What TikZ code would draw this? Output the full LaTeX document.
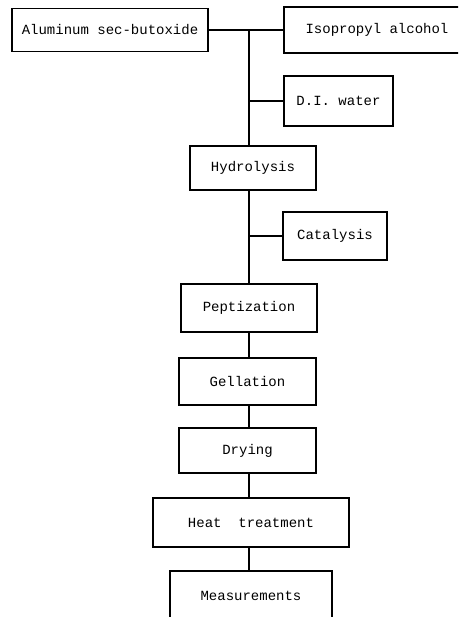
\documentclass[tikz,border=0pt]{standalone}
\usepackage{fontspec}
\setmonofont{Liberation Mono}
\usepackage{tikz}

\begin{document}
\begin{tikzpicture}[
  x=1pt, y=-1pt,
  font=\ttfamily\fontsize{14}{16}\selectfont,
  box/.style={draw, line width=1.1pt, inner sep=0pt, align=center},
  link/.style={draw, line width=1.1pt}
]
\clip (0,0) rectangle (458,617);

\node[box, minimum width=196pt, minimum height=43pt] (alkoxide) at (110,30) {Aluminum sec-butoxide};
\node[box, minimum width=186pt, minimum height=46pt] (ipa)      at (377,30) {Isopropyl alcohol};
\node[box, minimum width=109pt, minimum height=50pt] (water)    at (338.5,101) {D.I. water};
\node[box, minimum width=126pt, minimum height=44pt] (hydro)    at (253,168) {Hydrolysis};
\node[box, minimum width=104pt, minimum height=48pt] (cata)     at (335,236) {Catalysis};
\node[box, minimum width=136pt, minimum height=48pt] (pept)     at (249,308) {Peptization};
\node[box, minimum width=137pt, minimum height=47pt] (gel)      at (247.5,381.5) {Gellation};
\node[box, minimum width=137pt, minimum height=45pt] (dry)      at (247.5,450.5) {Drying};
\node[box, minimum width=196pt, minimum height=49pt] (heat)     at (251,522.5) {Heat~~treatment};
\node[box, minimum width=162pt, minimum height=50pt] (meas)     at (251,596) {Measurements};

\coordinate (trunk) at (249,30);

\draw[link] (alkoxide) -- (ipa);
\draw[link] (trunk) -- (trunk |- hydro.north);
\draw[link] (water.west) -- (water.west -| trunk);
\draw[link] (hydro.south -| trunk) -- (trunk |- pept.north);
\draw[link] (cata.west) -- (cata.west -| trunk);
\draw[link] (pept.south -| trunk) -- (trunk |- gel.north);
\draw[link] (gel.south -| trunk) -- (trunk |- dry.north);
\draw[link] (dry.south -| trunk) -- (trunk |- heat.north);
\draw[link] (heat.south -| trunk) -- (trunk |- meas.north);
\end{tikzpicture}
\end{document}
